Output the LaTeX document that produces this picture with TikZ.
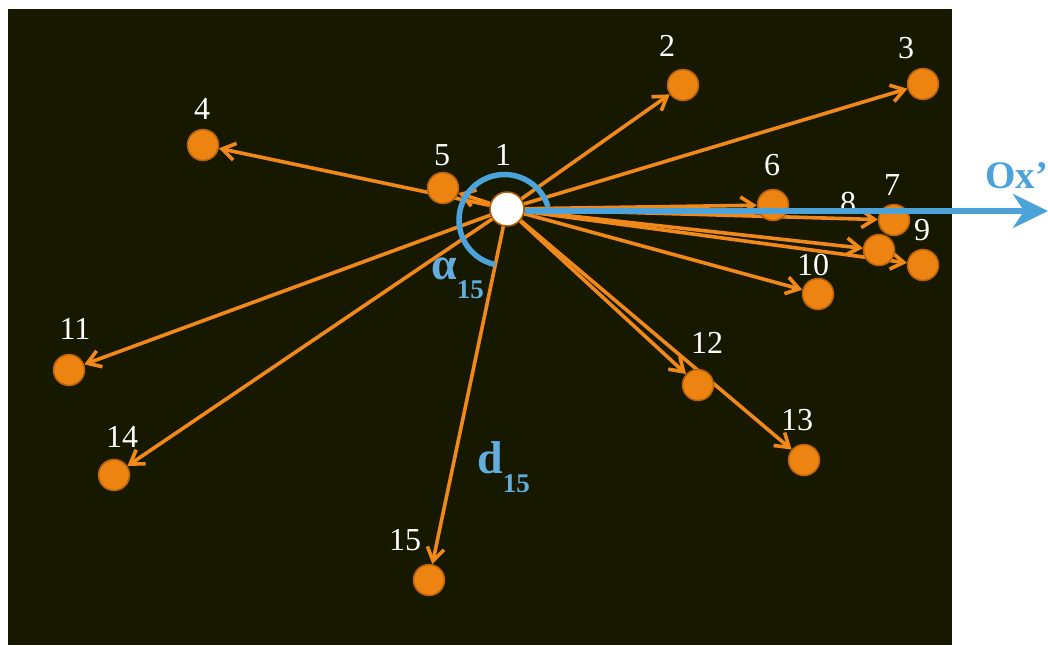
\documentclass[tikz,border=0pt]{standalone}
\usepackage{fontspec}
\setmainfont{Liberation Serif}
\usetikzlibrary{arrows.meta}
\pgfdeclarelayer{back}
\pgfdeclarelayer{edges}
\pgfsetlayers{back,edges,main}
\definecolor{bgc}{RGB}{22,24,0}
\definecolor{dotfill}{RGB}{237,131,16}
\definecolor{dotline}{RGB}{186,98,8}
\definecolor{edgec}{RGB}{240,136,26}
\definecolor{blueC}{RGB}{76,163,218}
\definecolor{lblue}{RGB}{98,172,222}
\begin{document}
\begin{tikzpicture}[x=1pt,y=-1pt,
  dot/.style={circle,fill=dotfill,draw=dotline,line width=1.5pt,minimum size=31pt,inner sep=0pt},
  hub/.style={circle,fill=white,draw=dotline,line width=1.5pt,minimum size=34pt,inner sep=0pt},
  lbl/.style={text=white,font=\fontsize{32}{32}\selectfont,anchor=base,inner sep=0pt},
  link/.style={draw=edgec,line width=3.6pt,-{Straight Barb[length=13pt,width=17pt]}},
  bluelbl/.style={text=lblue,font=\fontsize{46}{46}\selectfont\bfseries,anchor=base west,inner sep=0pt}
]
\useasboundingbox (0,0) rectangle (1048,645);
\begin{pgfonlayer}{back}
  \fill[bgc] (8,9) rectangle (952,645);
\end{pgfonlayer}
% nodes
\node[hub] (n1) at (507,209) {};
\node[dot] (n2) at (683,85) {};
\node[dot] (n3) at (923,84) {};
\node[dot] (n4) at (203,145) {};
\node[dot] (n5) at (443,188) {};
\node[dot] (n6) at (773,205) {};
\node[dot] (n7) at (894,220) {};
\node[dot] (n8) at (879,250) {};
\node[dot] (n9) at (923,265) {};
\node[dot] (n10) at (818,294) {};
\node[dot] (n11) at (69,370) {};
\node[dot] (n12) at (698,385) {};
\node[dot] (n13) at (804,460) {};
\node[dot] (n14) at (114,475) {};
\node[dot] (n15) at (429,580) {};
% labels
\node[lbl] (l1) at (503,165) {1};
\node[lbl] (l2) at (667,56) {2};
\node[lbl] (l3) at (906,58) {3};
\node[lbl] (l4) at (202,119) {4};
\node[lbl] (l5) at (442,165) {5};
\node[lbl] (l6) at (772,175) {6};
\node[lbl] (l7) at (892,195) {7};
\node[lbl] (l8) at (848,213) {8};
\node[lbl] (l9) at (922,240) {9};
\node[lbl] (l10) at (813,275) {10};
\node[lbl] (l11) at (75,339) {11};
\node[lbl] (l12) at (707,353) {12};
\node[lbl] (l13) at (797,430) {13};
\node[lbl] (l14) at (122,447) {14};
\node[lbl] (l15) at (405,550) {15};
% edges
\begin{pgfonlayer}{edges}
  \foreach \t in {2,...,15} \draw[link] (n1) -- (n\t);
\end{pgfonlayer}
% angle arc
\draw[blueC,line width=5.5pt] ([shift={(-16.6:45.5)}]504.5,220) arc[start angle=-16.6,end angle=-258,radius=45.5];
% Ox' axis
\coordinate (oxend) at (1048,211);
\draw[blueC,line width=6.5pt,-{Stealth[length=35pt,width=34pt,inset=11pt]}] (n1.east |- oxend) -- (oxend);
\node[text=blueC,font=\fontsize{39}{39}\selectfont\bfseries,anchor=base west,inner sep=0pt] (ox) at (985,188) {Ox’};
% alpha and d labels
\node[bluelbl] (alpha) at (431,279) {α\raisebox{-19pt}{\fontsize{27}{27}\selectfont 15}};
\node[bluelbl] (dlbl) at (477,473) {d\raisebox{-19pt}{\fontsize{27}{27}\selectfont 15}};
\end{tikzpicture}
\end{document}
